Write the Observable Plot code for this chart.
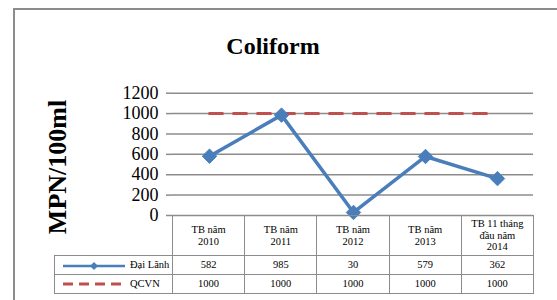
<!DOCTYPE html>
<html>
<head>
<meta charset="utf-8">
<script src="https://cdn.jsdelivr.net/npm/d3@7"></script>
<script src="https://cdn.jsdelivr.net/npm/@observablehq/plot@0.6"></script>
<style>
  body { margin:0; width:557px; height:300px; overflow:hidden; position:relative; background:#fff;
         font-family:"Liberation Serif", "Times New Roman", Times, serif; }
  #frame { position:absolute; left:13px; top:8px; width:700px; height:400px; border:2px solid #8c8c8c; box-sizing:border-box; }
  #title { position:absolute; left:0; top:30px; width:546px; text-align:center; font-size:24px; font-weight:bold; line-height:32px; }
  #ylabel { position:absolute; left:-42px; top:152px; width:200px; height:30px; line-height:30px; text-align:center;
            font-size:26px; font-weight:bold; transform:rotate(-90deg); transform-origin:100px 15px; white-space:nowrap; }
  #chart { position:absolute; left:0; top:0; }
  #tbl { position:absolute; left:54px; top:215px; border-collapse:collapse; table-layout:fixed; font-size:10.5px; }
  #tbl td { border:1.5px solid #8c8c8c; text-align:center; padding:0; white-space:pre-line; line-height:11.5px; }
  #tbl td.blank { border-top:none; border-left:none; }
  #tbl td.leg { text-align:left; padding-left:8px; white-space:nowrap; }
  #tbl td.leg svg { vertical-align:middle; margin-right:5px; }
</style>
</head>
<body>
<div id="frame"></div>
<div id="title"></div>
<div id="ylabel"></div>
<div id="chart"></div>
<table id="tbl"></table>
<script>
const title = "Coliform";
const yLabel = "MPN/100ml";
const categories = ["TB năm\n2010", "TB năm\n2011", "TB năm\n2012", "TB  năm\n2013", "TB 11 tháng\nđầu năm\n2014"];
const seriesNames = ["Đại Lãnh", "QCVN"];
const daiLanh = [582, 985, 30, 579, 362];
const qcvn = [1000, 1000, 1000, 1000, 1000];
const yTicks = [0, 200, 400, 600, 800, 1000, 1200];

const blue = "#4a7ebb", red = "#c0504d", gray = "#8c8c8c";

document.getElementById("title").textContent = title;
document.getElementById("ylabel").textContent = yLabel;

const dl = categories.map((c, i) => ({c, v: daiLanh[i]}));
const qc = categories.map((c, i) => ({c, v: qcvn[i]}));

const chart = Plot.plot({
  width: 557, height: 300,
  marginLeft: 172, marginRight: 24, marginTop: 92.7, marginBottom: 85,
  style: {fontFamily: "'Liberation Serif','Times New Roman',Times,serif", fontSize: "18px", background: "transparent", overflow: "visible"},
  x: {type: "point", domain: categories, padding: 0.5, axis: null},
  y: {domain: [0, 1200], axis: null},
  marks: [
    Plot.gridY(yTicks, {stroke: gray, strokeOpacity: 1, strokeWidth: 1.5}),
    Plot.axisY(yTicks, {tickSize: 6, tickPadding: 8, stroke: gray, strokeWidth: 1.5, fill: "#000", fontSize: 18, label: null, line: true, tickFormat: d => String(d)}),
    Plot.line(qc, {x: "c", y: "v", stroke: red, strokeWidth: 3, strokeDasharray: "13 11"}),
    Plot.line(dl, {x: "c", y: "v", stroke: blue, strokeWidth: 3.5}),
    Plot.dot(dl, {x: "c", y: "v", symbol: "diamond2", r: 6.5, fill: blue, stroke: blue, strokeWidth: 1})
  ]
});
document.getElementById("chart").appendChild(chart);

// data table below the chart
const tbl = document.getElementById("tbl");
const colW = 361 / categories.length;
const cg = document.createElement("colgroup");
[118, ...categories.map(() => colW)].forEach(w => { const c = document.createElement("col"); c.style.width = w + "px"; cg.appendChild(c); });
tbl.appendChild(cg);
const head = tbl.insertRow();
head.style.height = "40px";
const b = head.insertCell(); b.className = "blank";
categories.forEach(c => { const td = head.insertCell(); td.textContent = c; });

function swatch(kind) {
  const ns = "http://www.w3.org/2000/svg";
  const s = document.createElementNS(ns, "svg");
  s.setAttribute("width", 62); s.setAttribute("height", 10);
  const l = document.createElementNS(ns, "line");
  l.setAttribute("x1", 0); l.setAttribute("x2", kind === 0 ? 62 : 58); l.setAttribute("y1", 5); l.setAttribute("y2", 5);
  l.setAttribute("stroke", kind === 0 ? blue : red);
  l.setAttribute("stroke-width", kind === 0 ? 2.5 : 3);
  if (kind === 1) l.setAttribute("stroke-dasharray", "10 6");
  s.appendChild(l);
  if (kind === 0) {
    const p = document.createElementNS(ns, "path");
    p.setAttribute("d", "M31,1 L35,5 L31,9 L27,5 Z");
    p.setAttribute("fill", blue);
    s.appendChild(p);
  }
  return s;
}
[daiLanh, qcvn].forEach((vals, k) => {
  const tr = tbl.insertRow();
  tr.style.height = k === 0 ? "18.5px" : "19px";
  const lc = tr.insertCell(); lc.className = "leg";
  lc.appendChild(swatch(k));
  lc.appendChild(document.createTextNode(seriesNames[k]));
  vals.forEach(v => { const td = tr.insertCell(); td.textContent = String(v); });
});
</script>
</body>
</html>
